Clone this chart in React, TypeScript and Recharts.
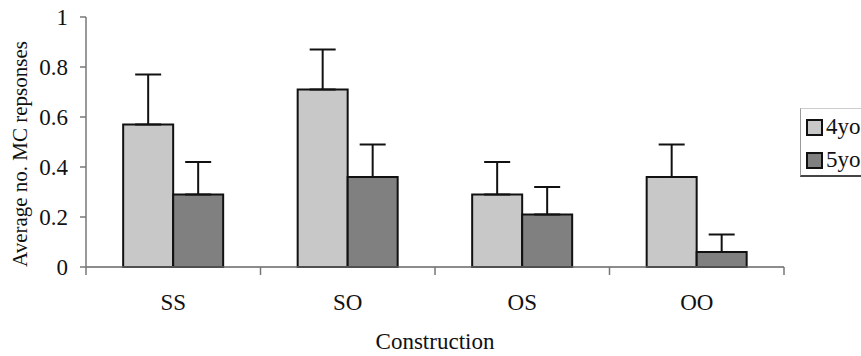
import { BarChart, Bar, XAxis, YAxis, ErrorBar, Label } from 'recharts'

const constructions = ['SS', 'SO', 'OS', 'OO']
const means4yo = [0.57, 0.71, 0.29, 0.36]
const means5yo = [0.29, 0.36, 0.21, 0.06]
const err4yo = [0.2, 0.16, 0.13, 0.13]
const err5yo = [0.13, 0.13, 0.11, 0.07]
const yTicks = [0, 0.2, 0.4, 0.6, 0.8, 1]

const FONT = '"Liberation Serif", "Times New Roman", serif'
const W = 861
const H = 356
const M = { top: 17, right: 77, bottom: 0, left: 36 }
const Y_W = 50
const X_H = 89
const BAND = (W - M.left - Y_W - M.right) / constructions.length

const data = constructions.map((c, i) => ({
  name: c,
  yo4: means4yo[i],
  yo5: means5yo[i],
  e4: [0, err4yo[i]],
  e5: [0, err5yo[i]],
}))

// labels under the axis, tick marks sit on the category boundaries
// eslint-disable-next-line @typescript-eslint/no-explicit-any
const CatTick = ({ x, y, payload, index }: any) => {
  const half = BAND / 2
  return (
    <g>
      <line x1={x - half} x2={x - half} y1={y - 8} y2={y} stroke="#777" strokeWidth={1.5} />
      {index === constructions.length - 1 && (
        <line x1={x + half} x2={x + half} y1={y - 8} y2={y} stroke="#777" strokeWidth={1.5} />
      )}
      <text x={x} y={y + 35} textAnchor="middle" fontFamily={FONT} fontSize={23} fill="#111">
        {payload.value}
      </text>
    </g>
  )
}

const legendItems = [
  { label: '4yo', color: '#c8c8c8' },
  { label: '5yo', color: '#808080' },
]

export default function App() {
  return (
    <div style={{ position: 'absolute', left: 0, top: 0, width: W, height: H, overflow: 'hidden', background: '#fff' }}>
      <BarChart width={W} height={H} data={data} margin={M} barCategoryGap="21.3%" barGap={0}>
        <XAxis
          dataKey="name"
          height={X_H}
          axisLine={{ stroke: '#666', strokeWidth: 1.5 }}
          tickLine={false}
          tickSize={8}
          tickMargin={0}
          tick={<CatTick />}
          interval={0}
        >
          <Label
            // eslint-disable-next-line @typescript-eslint/no-explicit-any
            content={({ viewBox }: any) => (
              <text
                x={viewBox.x + viewBox.width / 2}
                y={viewBox.y + 82}
                textAnchor="middle"
                fontFamily={FONT}
                fontSize={23}
                fill="#111"
              >
                Construction
              </text>
            )}
          />
        </XAxis>
        <YAxis
          domain={[0, 1]}
          ticks={yTicks}
          width={Y_W}
          axisLine={{ stroke: '#777', strokeWidth: 1.5 }}
          tickLine={{ stroke: '#777', strokeWidth: 1.5 }}
          tickSize={6}
          tickMargin={12}
          tick={{ fontFamily: FONT, fontSize: 23, fill: '#111' }}
          tickFormatter={(v: number) => String(v)}
        >
          <Label
            // eslint-disable-next-line @typescript-eslint/no-explicit-any
            content={({ viewBox }: any) => {
              const cy = viewBox.y + viewBox.height / 2 + 12
              return (
                <text
                  x={20}
                  y={cy}
                  transform={`rotate(-90 20 ${cy})`}
                  textAnchor="middle"
                  dominantBaseline="central"
                  fontFamily={FONT}
                  fontSize={21}
                  fill="#111"
                >
                  Average no. MC repsonses
                </text>
              )
            }}
          />
        </YAxis>
        <Bar dataKey="yo4" fill="#c8c8c8" stroke="#111" strokeWidth={2} isAnimationActive={false}>
          <ErrorBar dataKey="e4" direction="y" width={13} stroke="#111" strokeWidth={2} isAnimationActive={false} />
        </Bar>
        <Bar dataKey="yo5" fill="#808080" stroke="#111" strokeWidth={2} isAnimationActive={false}>
          <ErrorBar dataKey="e5" direction="y" width={13} stroke="#111" strokeWidth={2} isAnimationActive={false} />
        </Bar>
      </BarChart>
      <div
        style={{
          position: 'absolute',
          left: 800,
          top: 108,
          width: 80,
          height: 69,
          borderLeft: '1px solid #999',
          borderTop: '1px solid #ccc',
          borderBottom: '2px solid #444',
          fontFamily: FONT,
          fontSize: 23,
          color: '#111',
          boxSizing: 'border-box',
          paddingTop: 3,
        }}
      >
        {legendItems.map(it => (
          <div key={it.label} style={{ display: 'flex', alignItems: 'center', height: 30, marginBottom: 3 }}>
            <span
              style={{
                display: 'inline-block',
                width: 13,
                height: 13,
                marginLeft: 5,
                marginRight: 3,
                background: it.color,
                border: '2px solid #111',
              }}
            />
            <span>{it.label}</span>
          </div>
        ))}
      </div>
    </div>
  )
}
